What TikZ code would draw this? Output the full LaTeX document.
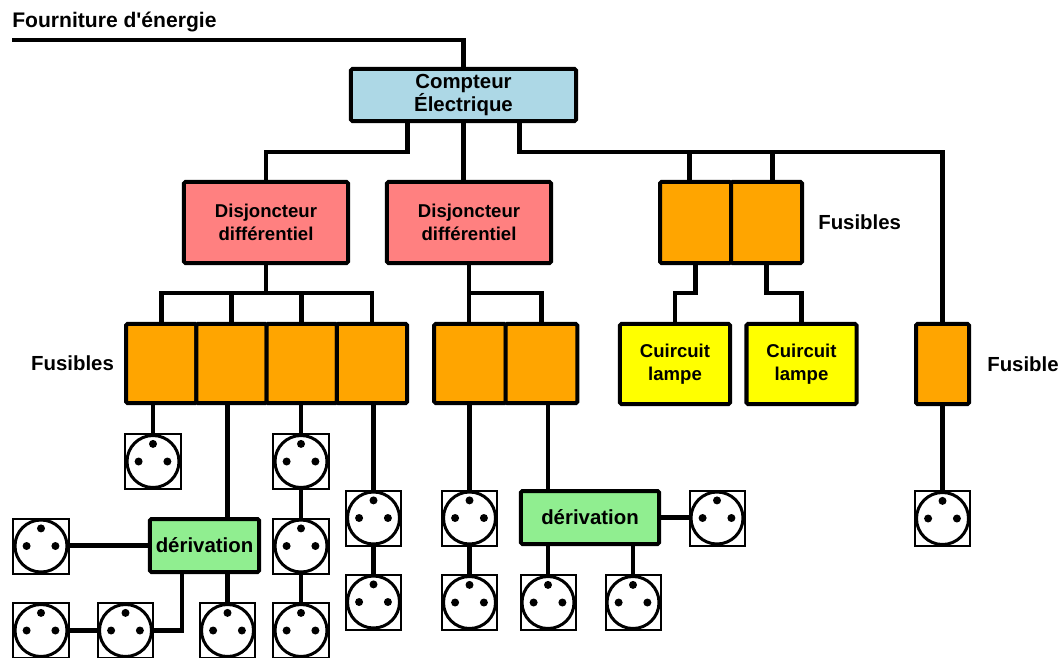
\documentclass[tikz,border=0pt]{standalone}
\usepackage{fontspec}
\setmainfont{Liberation Sans}
\usetikzlibrary{positioning}
\definecolor{compteur}{RGB}{173,216,230}
\definecolor{disjoncteur}{RGB}{255,128,128}
\definecolor{fusible}{RGB}{255,165,0}
\definecolor{lampe}{RGB}{255,255,0}
\definecolor{derivation}{RGB}{144,238,144}
\newcommand\textegros{\fontsize{14.5}{15}\selectfont\bfseries}
\newcommand\textemoyen{\fontsize{13.2}{16}\selectfont\bfseries}
\newcommand\apos{\XeTeXglyph\XeTeXcharglyph"27\relax}
\tikzset{
  boite/.style={draw, line width=0.1cm, rounded corners=1pt, inner sep=0pt, align=center},
  fus/.style={boite, fill=fusible},
  fil/.style={line width=0.12cm},
  etiq/.style={inner sep=0pt, font=\textegros},
  prise/.style={draw, fill=white, line width=0.05cm, minimum size=1.375cm, inner sep=0pt,
    path picture={
      \draw[line width=0.075cm] (path picture bounding box.center) circle (0.65cm);
      \fill[black] (path picture bounding box.center) ++(0,0.44cm) circle (0.1cm);
      \fill[black] (path picture bounding box.center) ++(-0.36cm,0) circle (0.1cm);
      \fill[black] (path picture bounding box.center) ++(0.36cm,0) circle (0.1cm);
    }}
}

\begin{document}
\begin{tikzpicture}[x=0.025cm, y=-0.025cm]
    \clip (0,0) rectangle (1062,657);
    % compteur et disjoncteurs
    \node[boite, fill=compteur, minimum width=5.625cm, minimum height=1.3cm, font=\textegros] (cpt) at (463.5,95) {Compteur\\Électrique};
    \node[boite, fill=disjoncteur, minimum width=4.1cm, minimum height=2.025cm, font=\textemoyen] (dj1) at (266,222.5) {Disjoncteur\\différentiel};
    \node[boite, fill=disjoncteur, minimum width=4.1cm, minimum height=2.025cm, font=\textemoyen] (dj2) at (469,222.5) {Disjoncteur\\différentiel};
    \node[fus, minimum width=1.775cm, minimum height=2.025cm] (fa) at (695.5,222.5) {};
    \node[fus, minimum width=1.775cm, minimum height=2.025cm] (fb) at (766.5,222.5) {};
    % fusibles
    \node[fus, minimum width=1.756cm, minimum height=1.975cm] (f1) at (161.25,363.5) {};
    \node[fus, minimum width=1.756cm, minimum height=1.975cm] (f2) at (231.5,363.5) {};
    \node[fus, minimum width=1.756cm, minimum height=1.975cm] (f3) at (301.75,363.5) {};
    \node[fus, minimum width=1.756cm, minimum height=1.975cm] (f4) at (372,363.5) {};
    \node[fus, minimum width=1.79cm, minimum height=1.975cm] (g1) at (470,363.5) {};
    \node[fus, minimum width=1.79cm, minimum height=1.975cm] (g2) at (541.5,363.5) {};
    \node[boite, fill=lampe, minimum width=2.75cm, minimum height=2cm, font=\textemoyen] (lp1) at (675,364) {Cuircuit\\lampe};
    \node[boite, fill=lampe, minimum width=2.75cm, minimum height=2cm, font=\textemoyen] (lp2) at (801.5,364) {Cuircuit\\lampe};
    \node[fus, minimum width=1.325cm, minimum height=2cm] (fs) at (942.5,364) {};
    % derivations
    \node[boite, fill=derivation, minimum width=2.725cm, minimum height=1.325cm, font=\textegros] (d1) at (204.5,545.5) {dérivation};
    \node[boite, fill=derivation, minimum width=3.45cm, minimum height=1.325cm, font=\textegros] (d2) at (590,517.5) {dérivation};
    % prises
    \node[prise] (sA) at (153,461.5) {};
    \node[prise] (sB1) at (301,461.5) {};
    \node[prise] (sB2) at (301,546) {};
    \node[prise] (sB3) at (301,630.5) {};
    \node[prise] (sC1) at (373.5,518) {};
    \node[prise] (sC2) at (373.5,602) {};
    \node[prise] (sD) at (41,546) {};
    \node[prise] (sE1) at (41,630.5) {};
    \node[prise] (sE2) at (125.5,630.5) {};
    \node[prise] (sE3) at (227.5,630.5) {};
    \node[prise] (sF1) at (469.5,518) {};
    \node[prise] (sF2) at (469.5,602.5) {};
    \node[prise] (sG) at (717,518) {};
    \node[prise] (sH1) at (548,602.5) {};
    \node[prise] (sH2) at (633,602.5) {};
    \node[prise] (sI) at (942.5,518.5) {};
    % etiquettes
    \node[etiq, font=\fontsize{15}{16}\selectfont\bfseries, anchor=base west] (titre) at (12,28) {Fourniture d\apos énergie};
    \node[etiq, left=0.25cm of f1] (lfus1) {Fusibles};
    \node[etiq, right=0.35cm of fb] (lfus2) {Fusibles};
    \node[etiq, right=0.4cm of fs] (lfus3) {Fusible};
    % fils
    \coordinate (src) at (12,40);
    \coordinate (bh) at (0,152);
    \coordinate (bb) at (0,293);
    \coordinate (k1) at (182,630);
    \draw[fil] (src) -| (cpt.north);
    \draw[fil] ([xshift=-1.4cm]cpt.south) |- (bh -| dj1.north) -- (dj1.north);
    \draw[fil] (cpt.south) -- (cpt.south |- dj2.north);
    \draw[fil] ([xshift=1.4cm]cpt.south) |- (bh -| fs.north) -- (fs.north);
    \draw[fil] ([xshift=-0.15cm]fa.north) -- ([xshift=-0.15cm]fa.north |- bh);
    \draw[fil] ([xshift=0.15cm]fb.north) -- ([xshift=0.15cm]fb.north |- bh);
    \draw[fil] (dj1.south) -- (dj1.south |- bb);
    \draw[fil] (f1.north) |- (bb -| f4.north) -- (f4.north);
    \draw[fil] (f2.north) -- (f2.north |- bb);
    \draw[fil] (f3.north) -- (f3.north |- bb);
    \draw[fil] (dj2.south) -- (dj2.south |- g1.north);
    \draw[fil] (g2.north) |- (bb -| dj2.south);
    \draw[fil] (fa.south) |- (bb -| lp1.north) -- (lp1.north);
    \draw[fil] (fb.south) |- (bb -| lp2.north) -- (lp2.north);
    \draw[fil] (sA.north |- f1.south) -- (sA.north);
    \draw[fil] (sE3.north |- f2.south) -- (sE3.north |- d1.north);
    \draw[fil] (sB1.north |- f3.south) -- (sB1.north);
    \draw[fil] (sB1.south) -- (sB2.north);
    \draw[fil] (sB2.south) -- (sB3.north);
    \draw[fil] (sC1.north |- f4.south) -- (sC1.north);
    \draw[fil] (sC1.south) -- (sC2.north);
    \draw[fil] (d1.west) -- (d1.west -| sD.east);
    \draw[fil] (k1 |- d1.south) |- (sE2.east);
    \draw[fil] (sE2.west) -- (sE1.east);
    \draw[fil] (sE3.north |- d1.south) -- (sE3.north);
    \draw[fil] (sF1.north |- g1.south) -- (sF1.north);
    \draw[fil] (sF1.south) -- (sF2.north);
    \draw[fil] (sH1.north |- g2.south) -- (sH1.north |- d2.north);
    \draw[fil] (sH1.north |- d2.south) -- (sH1.north);
    \draw[fil] (sH2.north |- d2.south) -- (sH2.north);
    \draw[fil] (d2.east) -- (d2.east -| sG.west);
    \draw[fil] (fs.south) -- (sI.north);
   %\draw[red] (0,0) grid[step=50] (1062,657);
\end{tikzpicture}
\end{document}
